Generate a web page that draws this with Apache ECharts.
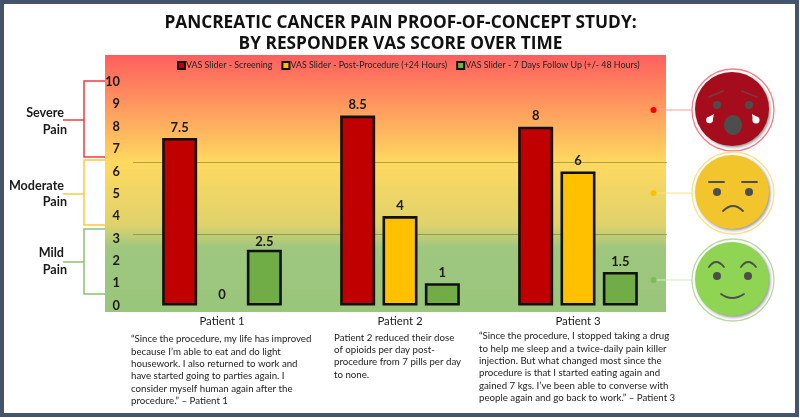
<!DOCTYPE html>
<html><head><meta charset="utf-8">
<style>html,body{margin:0;padding:0;background:#fff}#c{width:800px;height:418px}</style>
<script src="https://cdn.jsdelivr.net/npm/echarts@6/dist/echarts.min.js"></script>
</head><body><div id="c"></div>
<script>
const patients = ['Patient 1', 'Patient 2', 'Patient 3'];
const screening = [7.5, 8.5, 8];
const postProcedure = [0, 4, 6];
const followUp = [2.5, 1, 1.5];
const legendNames = ['VAS Slider - Screening', 'VAS Slider - Post-Procedure (+24 Hours)', 'VAS Slider - 7 Days Follow Up (+/- 48 Hours)'];
const zoneBoundaries = [6.4, 3.2];
const titleText = 'PANCREATIC CANCER PAIN PROOF-OF-CONCEPT STUDY:\nBY RESPONDER VAS SCORE OVER TIME';
const quote1 = '“Since the procedure, my life has improved\nbecause I’m able to eat and do light\nhousework. I also returned to work and\nhave started going to parties again. I\nconsider myself human again after the\nprocedure.” – Patient 1';
const quote2 = 'Patient 2 reduced their dose\nof opioids per day post-\nprocedure from 7 pills per day\nto none.';
const quote3 = '“Since the procedure, I stopped taking a drug\nto help me sleep and a twice-daily pain killer\ninjection. But what changed most since the\nprocedure is that I started eating again and\ngained 7 kgs. I’ve been able to converse with\npeople again and go back to work.” – Patient 3';

const F = 'Lato';
const DARK = '#4d4d4d';
const chart = echarts.init(document.getElementById('c'), null, {renderer: 'canvas'});

function txt(x, y, text, o) {
  return {type: 'text', z: -5, x, y, style: Object.assign({text, fontFamily: F, fill: '#1a1a1a', verticalAlign: 'middle'}, o)};
}
function zoneLabel(cy1, cy2, a, b, rightA) {
  return [
    txt(rightA, cy1, a, {fontSize: 12.6, fontWeight: 'bold', align: 'right'}),
    txt(67, cy2, b, {fontSize: 12.6, fontWeight: 'bold', align: 'right'})
  ];
}
function bracket(top, bottom, stub, color) {
  return [
    {type: 'polyline', z: -5, shape: {points: [[105, top], [84, top], [84, bottom], [105, bottom]]}, style: {stroke: color, lineWidth: 1.5, fill: 'none'}},
    {type: 'line', z: -5, shape: {x1: 63, y1: stub, x2: 84, y2: stub}, style: {stroke: color, lineWidth: 1.5}}
  ];
}
function faceBase(cy, fill, ring) {
  return [
    {type: 'circle', z: -5, shape: {cx: 733, cy, r: 41}, style: {fill: '#fff', stroke: ring, lineWidth: 1.3}},
    {type: 'circle', z: -4, shape: {cx: 732, cy: cy - 1, r: 37}, style: {fill, shadowColor: 'rgba(0,0,0,0.4)', shadowBlur: 3, shadowOffsetX: 1.5, shadowOffsetY: 1.5}}
  ];
}
function feat(type, shape, style) {
  return {type, z: -3, shape, style: Object.assign({fill: 'none', stroke: DARK, lineWidth: 1.8, lineCap: 'round'}, style || {})};
}
function eye(cx, cy) { return feat('circle', {cx, cy, r: 4}, {fill: DARK, stroke: null, lineWidth: 0}); }
function tear(tipX, tipY, cx, cy, r) {
  const white = {fill: '#fff', stroke: null, lineWidth: 0};
  const dx = cx - tipX, dy = cy - tipY, d = Math.hypot(dx, dy), nx = -dy / d * r, ny = dx / d * r;
  return [
    feat('circle', {cx, cy, r}, white),
    feat('polygon', {points: [[tipX, tipY], [cx + nx, cy + ny], [cx - nx, cy - ny]]}, white)
  ];
}
function connector(y, dot, line) {
  return [
    {type: 'line', z: -5, shape: {x1: 653, y1: y, x2: 692, y2: y}, style: {stroke: line, lineWidth: 1.2}},
    {type: 'circle', z: -5, shape: {cx: 653.5, cy: y, r: 3}, style: {fill: dot}}
  ];
}

const graphicEls = [
  {type: 'rect', z: -10, shape: {x: 2, y: 2, width: 795, height: 413}, style: {fill: '#fff', stroke: '#44546a', lineWidth: 4}},
  {type: 'rect', z: -9, shape: {x: 105, y: 55, width: 561, height: 257}, style: {fill: {
    type: 'linear', x: 0, y: 0, x2: 0, y2: 1, colorStops: [
      {offset: 0, color: '#ff5e5e'}, {offset: 0.416, color: '#ffd95f'}, {offset: 0.66, color: '#dfd26c'},
      {offset: 0.75, color: '#9fc77f'}, {offset: 1, color: '#99c67b'}]}}},
  ...bracket(81, 157, 120, '#ee3b45'),
  ...bracket(160, 225, 194, '#ffc83d'),
  ...bracket(229, 294, 262, '#8fc070'),
  ...zoneLabel(113, 130, 'Severe', 'Pain', 64),
  ...zoneLabel(186, 202, 'Moderate', 'Pain', 64),
  ...zoneLabel(253, 270, 'Mild', 'Pain', 64),
  ...connector(110, '#ff0000', '#ff9c9c'),
  ...connector(193, '#ffc000', '#ffe08a'),
  ...connector(280, '#7dbb58', '#d5e8c6'),
  ...faceBase(110, '#a50d1c', '#f27f86'),
  feat('line', {x1: 709, y1: 97, x2: 723, y2: 91}, {stroke: '#7a3a40'}),
  feat('line', {x1: 742, y1: 91, x2: 757, y2: 97}, {stroke: '#7a3a40'}),
  eye(717, 105), eye(749, 105),
  feat('ellipse', {cx: 733, cy: 125, rx: 9, ry: 10}, {fill: DARK, stroke: null, lineWidth: 0}),
  ...tear(714, 114, 709.5, 120, 3.3),
  ...tear(752, 114, 756, 120, 3.5),
  ...faceBase(193, '#f2c52d', '#fde08a'),
  feat('line', {x1: 709, y1: 182, x2: 724, y2: 182}),
  feat('line', {x1: 742, y1: 182, x2: 757, y2: 182}),
  eye(717, 192), eye(749, 192),
  feat('bezierCurve', {x1: 723, y1: 211, x2: 743, y2: 211, cpx1: 733, cpy1: 201}),
  ...faceBase(280, '#8fd452', '#b9d9a4'),
  feat('bezierCurve', {x1: 709, y1: 267, x2: 724, y2: 267, cpx1: 716, cpy1: 257}),
  feat('bezierCurve', {x1: 741, y1: 267, x2: 756, y2: 267, cpx1: 748, cpy1: 257}),
  eye(717, 276), eye(748, 276),
  feat('bezierCurve', {x1: 721, y1: 294, x2: 744, y2: 294, cpx1: 732, cpy1: 302}),
  txt(131, 370, quote1, {fontSize: 9.7, lineHeight: 12.4, fill: '#222'}),
  txt(334, 356, quote2, {fontSize: 9.7, lineHeight: 12.4, fill: '#222'}),
  txt(479, 367, quote3, {fontSize: 9.7, lineHeight: 12.4, fill: '#222'})
];

function bar(name, data, color, extra) {
  return Object.assign({
    name, type: 'bar', barWidth: 35, barGap: '21%',
    data: data.map(value => {
      const item = {value};
      if (value === 2.5) item.label = {distance: 1};
      if (value === 0) item.itemStyle = {borderWidth: 0};
      return item;
    }),
    itemStyle: {color, borderColor: '#111', borderWidth: 2.6},
    label: {show: true, position: 'top', distance: 4, fontFamily: F, fontWeight: 'bold', fontSize: 13, color: '#1a1a1a'}
  }, extra || {});
}

chart.setOption({
  animation: false,
  title: {text: titleText, left: 395.5, textAlign: 'center', top: 8,
    textStyle: {fontFamily: 'Open Sans', fontWeight: 'bold', fontSize: 17.3, lineHeight: 21, color: '#111'}},
  legend: {
    left: 172, top: 56, itemWidth: 7, itemHeight: 7, itemGap: 9, icon: 'rect',
    data: legendNames,
    itemStyle: {borderColor: '#111', borderWidth: 2},
    textStyle: {fontFamily: F, fontSize: 8.9, color: '#222', padding: [0, 0, 0, -4]}
  },
  grid: {left: 133, right: 133, top: 82, bottom: 112.5, containLabel: false},
  xAxis: {type: 'category', data: patients, z: 3,
    axisLine: {show: false}, axisTick: {show: false},
    axisLabel: {fontFamily: F, fontSize: 11.4, color: '#1a1a1a', margin: 10}},
  yAxis: {type: 'value', min: 0, max: 10, interval: 1, z: 3,
    splitLine: {show: false}, axisLine: {show: false}, axisTick: {show: false},
    axisLabel: {fontFamily: F, fontWeight: 'bold', fontSize: 12.8, color: '#1a1a1a', margin: 13}},
  graphic: {elements: graphicEls},
  series: [
    bar(legendNames[0], screening, '#c00000', {
      markLine: {silent: true, symbol: 'none', label: {show: false}, animation: false, z: 1,
        lineStyle: {color: 'rgba(110,100,50,0.5)', width: 1, type: 'solid'},
        data: zoneBoundaries.map(v => ({yAxis: v}))}
    }),
    bar(legendNames[1], postProcedure, '#ffc000'),
    bar(legendNames[2], followUp, '#70ad47')
  ]
});
</script></body></html>
